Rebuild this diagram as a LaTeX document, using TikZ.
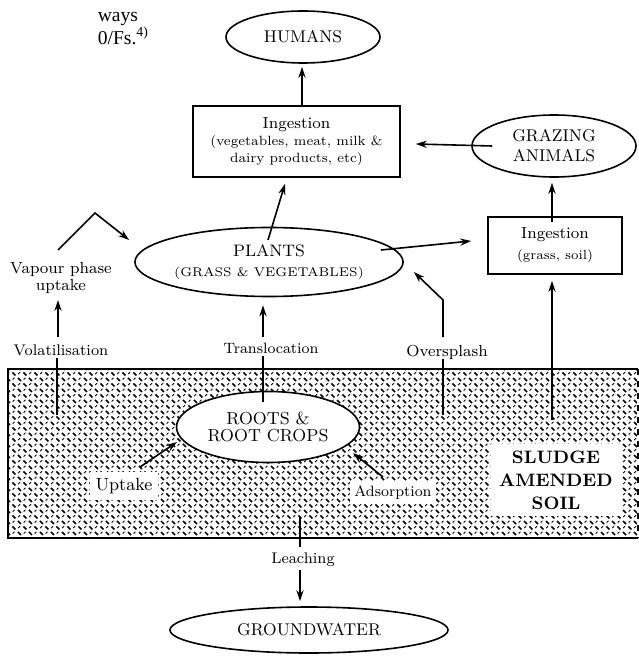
\documentclass[tikz,border=0pt]{standalone}
\usepackage{fontspec}
\newfontfamily\timesfont{Liberation Serif}
\usetikzlibrary{shapes.geometric,arrows.meta,calc,patterns}
\pgfdeclarepatternformonly{diamondplate}{\pgfpoint{-1pt}{-1pt}}{\pgfpoint{6.5pt}{6.5pt}}{\pgfpoint{5.5pt}{5.5pt}}{%
  \pgfsetlinewidth{0.75pt}\pgfsetbuttcap
  \pgfpathmoveto{\pgfpoint{0.7pt}{4.8pt}}\pgfpathlineto{\pgfpoint{2.2pt}{3.3pt}}%
  \pgfpathmoveto{\pgfpoint{3.5pt}{2.0pt}}\pgfpathlineto{\pgfpoint{5.0pt}{0.5pt}}%
  \pgfusepath{stroke}%
  \pgfsetlinewidth{0.45pt}%
  \pgfpathmoveto{\pgfpoint{3.6pt}{4.0pt}}\pgfpathlineto{\pgfpoint{4.5pt}{4.9pt}}%
  \pgfpathmoveto{\pgfpoint{0.8pt}{1.2pt}}\pgfpathlineto{\pgfpoint{1.7pt}{2.1pt}}%
  \pgfusepath{stroke}}
\begin{document}
\begin{tikzpicture}[x=0.5pt,y=-0.5pt,line width=0.8pt,
  arr/.style={-{Stealth[length=5.5pt,width=3.6pt]}},
  oval/.style={ellipse,draw,inner sep=0pt,align=center},
  box/.style={rectangle,draw,inner sep=0pt,align=center},
  lbl/.style={inner sep=1pt,align=center},
  soilregion/.style={rectangle,inner sep=0pt,pattern=diamondplate},
  patch/.style={fill=white,align=center}]
\useasboundingbox (0,0) rectangle (638,657);

% page fragment
\node[anchor=north west,inner sep=0,align=left,font=\timesfont\fontsize{9.8}{7.6}\selectfont] (frag) at (97,11) {ways\\0/Fs.\textsuperscript{4)}};

% upper nodes
\node[oval,minimum width=77pt,minimum height=26pt,font=\fontsize{8.5}{10}\selectfont] (humans) at (303,37) {HUMANS};
\node[box,minimum width=103.5pt,minimum height=35.5pt,font=\fontsize{6.7}{8.5}\selectfont] (ing1) at (296.5,141.5)
  {{\fontsize{8}{8.5}\selectfont Ingestion}\\(vegetables, meat, milk \&\\dairy products, etc)};
\node[oval,minimum width=82pt,minimum height=31pt,font=\fontsize{8.5}{10}\selectfont] (graz) at (554,146) {GRAZING\\ANIMALS};
\node[oval,minimum width=126pt,minimum height=34.5pt,font=\fontsize{6.3}{10}\selectfont] (plants) at (269,262)
  {{\fontsize{8.3}{10}\selectfont PLANTS}\\(GRASS \& VEGETABLES)};
\node[box,minimum width=67pt,minimum height=28.5pt,font=\fontsize{6.6}{10.5}\selectfont] (ing2) at (555,245.5)
  {{\fontsize{8}{10.5}\selectfont Ingestion}\\(grass, soil)};

% labels above soil
\node[lbl,font=\fontsize{8}{8.5}\selectfont] (vapour) at (61,278) {Vapour phase\\uptake};
\node[lbl,font=\fontsize{7.7}{9}\selectfont] (vol) at (61,350) {Volatilisation};
\node[lbl,font=\fontsize{7.5}{9}\selectfont] (transl) at (271,348) {Translocation};
\node[lbl,font=\fontsize{8}{9}\selectfont] (overs) at (447,352) {Oversplash};

% soil
\node[soilregion,minimum width=314pt,minimum height=83.5pt] (soil) at (323,453.5) {};
\draw[line width=1.1pt] (soil.north east) -- (soil.north west) -- (soil.south west) -- (soil.south east);
\draw[line width=1.1pt,dashed] (soil.north east) -- (soil.south east);

% below soil
\node[lbl,font=\fontsize{7.7}{9}\selectfont] (leach) at (303,560) {Leaching};
\node[oval,minimum width=139pt,minimum height=23pt,font=\fontsize{8.5}{10}\selectfont] (ground) at (309,630) {GROUNDWATER};

\coordinate (volsrc) at (57,415);
\coordinate (overssrc) at (443,415);
\coordinate (ing2src) at (552,420);
\coordinate (leachsrc) at (300,517);
\coordinate (bend) at (95,213);

% connector lines into soil (under white patches)
\draw (volsrc) -- ($(vol.center)+(-4,8)$);
\draw (overssrc) -- ($(overs.center)+(-4,7)$);
\draw[arr] (ing2src) -- ($(ing2.south)+(-3,6)$);
\draw (leachsrc) -- ($(leach.center)+(-3,-13)$);

\node[oval,fill=white,minimum width=91.5pt,minimum height=35.5pt,font=\fontsize{8.7}{8.5}\selectfont] (roots) at (268,427) {ROOTS \&\\ROOT CROPS};
\node[patch,inner sep=3pt,font=\fontsize{8.8}{10}\selectfont] (uptake) at (124,486) {Uptake};
\node[patch,inner sep=2pt,font=\fontsize{7.5}{9}\selectfont] (adsorp) at (393,493) {Adsorption};
\node[patch,minimum width=65.5pt,minimum height=36pt,inner sep=0pt,font=\bfseries\fontsize{9}{11.5}\selectfont] (sludge) at (556,480) {SLUDGE\\AMENDED\\SOIL};

% connectors
\draw[arr] ($(ing1.north)+(5.5,0)$) -- ($(humans.south)+(-1,3)$);
\draw[arr] ($(graz.west)+(21,0)$) -- ($(ing1.east)+(15,2.5)$);
\draw[arr] ($(plants.center)+(-1,-22)$) -- ($(ing1.south)+(-11.5,6)$);
\draw[arr] ($(vapour.center)+(-3,-28)$) -- (bend) -- ($(plants.west)+(-5,-22)$);
\draw[arr] ($(vol.center)+(-3,-13)$) -- ($(vapour.center)+(-3,22)$);
\draw ($(roots.north)+(-5,11)$) -- ($(transl.center)+(-8,8)$);
\draw[arr] ($(transl.center)+(-8,-11)$) -- ($(plants.south)+(-6,8)$);
\draw[arr] ($(overs.center)+(-4,-15)$) -- ($(overs.center)+(-4,-52)$) -- ($(plants.east)+(10,10)$);
\draw[arr] ($(plants.east)+(-23,-12)$) -- ($(ing2.west)+(-16,-4.5)$);
\draw[arr] ($(ing2.north)+(-3,6)$) -- ($(graz.south)+(-2,5)$);
\draw[arr] ($(uptake.center)+(16,-19)$) -- ($(roots.center)+(-91,15)$);
\draw[arr] ($(adsorp.center)+(-10,-16)$) -- ($(roots.center)+(85,26)$);
\draw[arr] ($(leach.center)+(-3,10)$) -- ($(ground.north)+(-9,-5)$);
\end{tikzpicture}
\end{document}
